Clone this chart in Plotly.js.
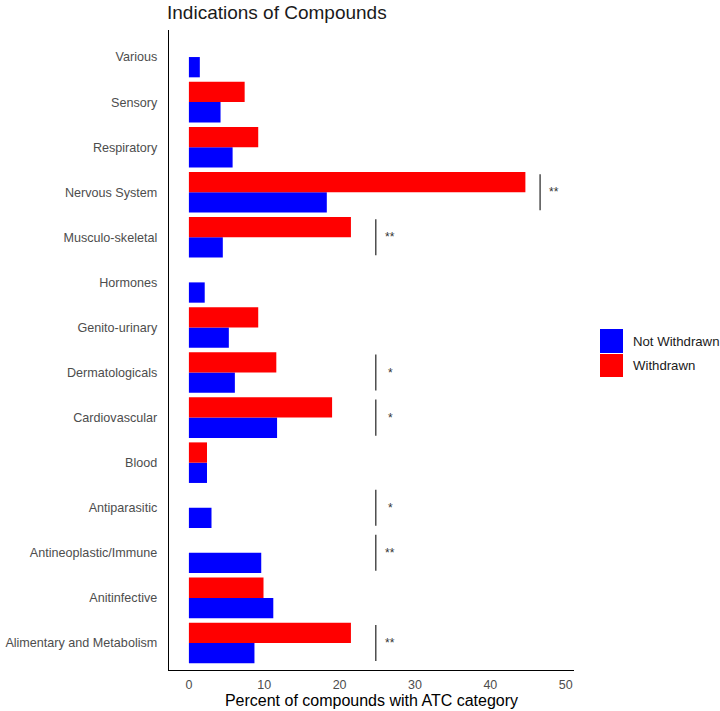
<!DOCTYPE html>
<html>
<head>
<meta charset="utf-8">
<script src="https://cdn.plot.ly/plotly-3.0.1.min.js"></script>
<style>html,body{margin:0;padding:0;background:#fff;}#chart{width:720px;height:711px;}</style>
</head>
<body>
<div id="chart"></div>
<script>
// Categories, bottom to top
const categories = ["Alimentary and Metabolism","Anitinfective","Antineoplastic/Immune","Antiparasitic","Blood","Cardiovascular","Dermatologicals","Genito-urinary","Hormones","Musculo-skeletal","Nervous System","Respiratory","Sensory","Various"];
const notWithdrawn = [8.7, 11.2, 9.6, 3.0, 2.4, 11.7, 6.1, 5.3, 2.1, 4.5, 18.3, 5.8, 4.2, 1.45];
const withdrawn    = [21.5, 9.9, 0, 0, 2.4, 19.0, 11.6, 9.2, 0, 21.5, 44.65, 9.2, 7.4, 0];

// Significance annotations
const sigCategories = ["Alimentary and Metabolism","Antineoplastic/Immune","Antiparasitic","Cardiovascular","Dermatologicals","Musculo-skeletal","Nervous System"];
const sigLabels     = ["**","**","*","*","*","**","**"];
const sigLineX      = [24.8, 24.8, 24.8, 24.8, 24.8, 24.8, 46.6];

const seriesNames = ["Not Withdrawn","Withdrawn"];
const seriesColors = ["#0000FF","#FF0000"];

const font = "Liberation Sans, Arial, sans-serif";

const traces = [
  {type:'bar', orientation:'h', name:seriesNames[0], y:categories, x:notWithdrawn,
   marker:{color:seriesColors[0], line:{width:0}}, showlegend:false, hoverinfo:'x+y'},
  {type:'bar', orientation:'h', name:seriesNames[1], y:categories, x:withdrawn,
   marker:{color:seriesColors[1], line:{width:0}}, showlegend:false, hoverinfo:'x+y'}
];

const shapes = [];
const annotations = [];
sigCategories.forEach((c,i)=>{
  const idx = categories.indexOf(c);
  shapes.push({type:'line', xref:'x', yref:'y', x0:sigLineX[i], x1:sigLineX[i], y0:idx-0.4, y1:idx+0.4,
    line:{color:'#333333', width:1.3}});
  annotations.push({xref:'x', yref:'y', x:sigLineX[i]+1.9, y:idx, text:sigLabels[i], showarrow:false,
    font:{family:font, size:12, color:'#333333'}, xanchor:'center', yanchor:'middle'});
});

// custom legend (ggplot style)
const L = 169, R = 574, T = 30, B = 670;
const px = v => (v - L)/(R - L);
const py = v => (B - v)/(B - T);
const legendRows = [[329, 353], [354, 377]];
seriesNames.forEach((n,i)=>{
  shapes.push({type:'rect', xref:'paper', yref:'paper', x0:px(600), x1:px(623), y0:py(legendRows[i][1]), y1:py(legendRows[i][0]),
    fillcolor:seriesColors[i], line:{width:0}});
  annotations.push({xref:'paper', yref:'paper', x:px(631), y:py((legendRows[i][0]+legendRows[i][1])/2), text:n, showarrow:false,
    xanchor:'left', yanchor:'middle', font:{family:font, size:13.2, color:'#1a1a1a'}});
});

const layout = {
  width:720, height:711,
  margin:{l:L, r:720-R, t:T, b:711-B, pad:0},
  paper_bgcolor:'#fff', plot_bgcolor:'#fff',
  barmode:'group', bargap:0.1, bargroupgap:0,
  showlegend:false,
  title:{text:'Indications of Compounds', x:167/720, xanchor:'left', xref:'container', y:1-12/711, yanchor:'middle',
    font:{family:font, size:19, color:'#1a1a1a'}},
  xaxis:{range:[-2.64, 51.1], tickvals:[0,10,20,30,40,50], showgrid:false, zeroline:false,
    showline:true, linecolor:'#000', linewidth:1.2, ticks:'', ticklabelstandoff:3,
    tickfont:{family:font, size:12.5, color:'#4d4d4d'},
    title:{text:'Percent of compounds with ATC category', standoff:3, font:{family:font, size:16, color:'#000'}}},
  yaxis:{type:'category', categoryorder:'array', categoryarray:categories, range:[-0.6, 13.6],
    showgrid:false, zeroline:false, showline:true, linecolor:'#000', linewidth:1.2, ticks:'',
    ticklabelstandoff:8, tickfont:{family:font, size:12.6, color:'#4d4d4d'}},
  shapes:shapes, annotations:annotations,
  font:{family:font}
};

Plotly.newPlot('chart', traces, layout, {displayModeBar:false, staticPlot:true});
</script>
</body>
</html>
